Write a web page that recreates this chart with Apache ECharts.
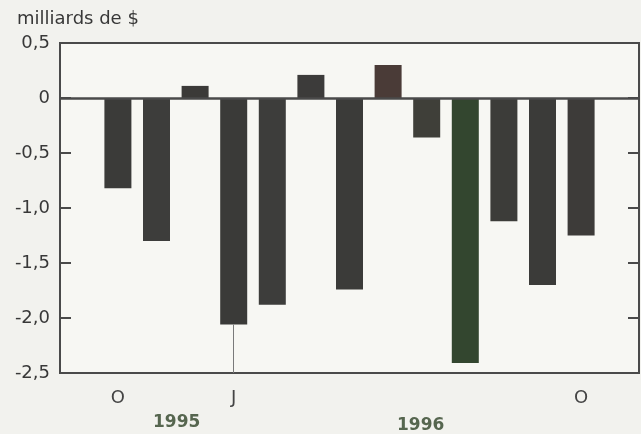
<!DOCTYPE html>
<html>
<head>
<meta charset="utf-8">
<script src="https://cdn.jsdelivr.net/npm/echarts@6/dist/echarts.min.js"></script>
<style>
html,body{margin:0;padding:0;background:#f2f2ee;}
#c{width:641px;height:434px;}
</style>
</head>
<body>
<div id="c"></div>
<script>
// Data
var months = ['O','N','D','J','F','M','A','M','J','J','A','S','O'];
var shownLabels = ['O','','','J','','','','','','','','','O'];
var values = [-0.82, -1.30, 0.11, -2.06, -1.88, 0.21, -1.74, 0.30, -0.36, -2.41, -1.12, -1.70, -1.25];
var yearLabels = ['1995', '1996'];
var yTicks = [-2.5, -2.0, -1.5, -1.0, -0.5, 0, 0.5];

// padded categories (one empty slot each side)
var cats = [''].concat(shownLabels).concat(['']);
var seriesData = [null].concat(values).concat([null]);
var barColors = ['#3b3b39','#3d3d3b','#3b3a38','#3a3a38','#3d3d3b','#3c3b3a','#3b3b39','#4a3b37','#3f3f39','#33462f','#3c3c39','#3b3b39','#3d3b39'];

var FONT = 'DejaVu Sans';
var chart = echarts.init(document.getElementById('c'));
function fmt(v){
  if (Math.abs(v) < 1e-9) return '0';
  return v.toFixed(1).replace('.', ',');
}
var option = {
  backgroundColor: '#f2f2ee',
  animation: false,
  title: {
    text: 'milliards de $',
    left: 12, top: 5,
    textStyle: {fontFamily: FONT, fontSize: 18, fontWeight: 'normal', color: '#383838'}
  },
  grid: {
    left: 60, right: 2, top: 43, bottom: 61,
    show: true, backgroundColor: '#f7f7f3', borderColor: '#4a4a4a', borderWidth: 2
  },
  xAxis: {
    type: 'category',
    data: cats,
    boundaryGap: true,
    axisLine: {show: true, onZero: false, lineStyle: {color: '#4a4a4a', width: 2}},
    axisTick: {show: false},
    axisLabel: {interval: 0, margin: 16, fontFamily: FONT, fontSize: 18, color: '#444'}
  },
  yAxis: [{
    type: 'value',
    min: yTicks[0], max: yTicks[yTicks.length-1], interval: 0.5,
    axisLine: {show: true, lineStyle: {color: '#4a4a4a', width: 2}},
    axisTick: {show: true, inside: true, length: 11, lineStyle: {color: '#4a4a4a', width: 2}},
    splitLine: {show: false},
    axisLabel: {margin: 10, fontFamily: FONT, fontSize: 18, color: '#383838', formatter: fmt}
  }, {
    type: 'value', position: 'right',
    min: yTicks[0], max: yTicks[yTicks.length-1], interval: 0.5,
    axisLine: {show: true, lineStyle: {color: '#4a4a4a', width: 2}},
    axisTick: {show: true, inside: true, length: 11, lineStyle: {color: '#4a4a4a', width: 2}},
    splitLine: {show: false},
    axisLabel: {show: false}
  }],
  series: [{
    type: 'bar',
    data: seriesData.map(function(v, i){
      if (v === null) return null;
      return {value: v, itemStyle: {color: barColors[i-1]}};
    }),
    barWidth: 27,
    z: 2,
    markLine: {
      silent: true,
      symbol: 'none',
      label: {show: false},
      data: [
        [{coord: [0, 0], x: 60}, {coord: [14, 0], x: 639}],
        [{coord: [4, yTicks[0]], lineStyle: {color: '#7a7a7a', width: 1}}, {coord: [4, values[3]]}]
      ],
      lineStyle: {color: '#4a4a4a', width: 2.5, type: 'solid'}
    }
  }],
  graphic: [
    {type: 'text', left: 153, top: 414, style: {text: yearLabels[0], font: 'bold 17px "DejaVu Sans"', fill: '#56664f'}},
    {type: 'text', left: 397, top: 417, style: {text: yearLabels[1], font: 'bold 17px "DejaVu Sans"', fill: '#56664f'}}
  ]
};
chart.setOption(option);
</script>
</body>
</html>
